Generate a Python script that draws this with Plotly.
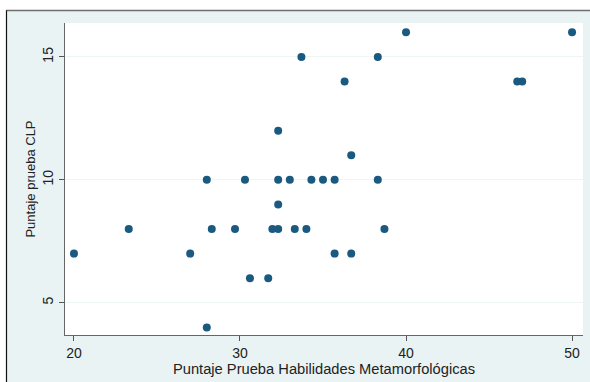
import plotly.graph_objects as go

# Puntaje Prueba Habilidades Metamorfológicas
x_vals = [40.0, 50.0,
          33.7, 38.3,
          36.3, 46.7, 47.0,
          32.3,
          36.7,
          28.0, 30.3, 32.3, 33.0, 34.3, 35.0, 35.7, 38.3,
          32.3,
          23.3, 28.3, 29.7, 31.95, 32.3, 33.3, 34.0, 38.7,
          20.0, 27.0, 35.7, 36.7,
          30.6, 31.7,
          28.0]
# Puntaje prueba CLP
y_vals = [16, 16,
          15, 15,
          14, 14, 14,
          12,
          11,
          10, 10, 10, 10, 10, 10, 10, 10,
          9,
          8, 8, 8, 8, 8, 8, 8, 8,
          7, 7, 7, 7,
          6, 6,
          4]

x_ticks = [20, 30, 40, 50]
y_ticks = [5, 10, 15]

BG = "#eaf3f3"
fig = go.Figure()
fig.add_trace(go.Scatter(
    x=x_vals, y=y_vals, mode="markers",
    marker=dict(size=8, color="#1b5a80", line=dict(width=0)),
    showlegend=False))

PW, PH = 518, 312
L, T = 65, 23
def px(p):
    return (p - L) / PW
def py(p):
    return (T + PH - p) / PH

fig.update_layout(
    width=590, height=382,
    margin=dict(l=L, r=590 - L - PW, t=T, b=382 - T - PH, autoexpand=False),
    paper_bgcolor=BG, plot_bgcolor="white",
    font=dict(family="Liberation Sans, Arial, sans-serif", size=14, color="#222"),
    shapes=[
        dict(type="rect", xref="paper", yref="paper", x0=px(-5), x1=px(600), y0=py(10.5), y1=py(-5),
             fillcolor="white", line=dict(width=0), layer="above"),
        dict(type="rect", xref="paper", yref="paper", x0=px(-5), x1=px(6), y0=py(400), y1=py(-5),
             fillcolor="white", line=dict(width=0), layer="above"),
        dict(type="line", xref="paper", yref="paper", x0=px(6), x1=px(600), y0=py(10.5), y1=py(10.5),
             line=dict(color="#6e6e6e", width=1.5), layer="above"),
        dict(type="line", xref="paper", yref="paper", x0=px(6.5), x1=px(6.5), y0=py(10.5), y1=py(400),
             line=dict(color="#111", width=1.2), layer="above"),
    ],
)
fig.update_xaxes(
    range=[19.46, 50.66], tickvals=x_ticks, ticks="outside", ticklen=5, tickcolor="#555",
    showline=True, linecolor="#666", linewidth=1.2, showgrid=False, zeroline=False, automargin=False,
    tickfont=dict(size=14, color="#222"),
    title=dict(text="Puntaje Prueba Habilidades Metamorfológicas", font=dict(size=14.7, color="#222"), standoff=2))
fig.update_yaxes(
    range=[3.69, 16.38], tickvals=y_ticks, ticks="outside", ticklen=5, tickcolor="#555", tickangle=-90,
    showline=True, linecolor="#666", linewidth=1.2, showgrid=True, gridcolor="#eef5f5", gridwidth=1,
    zeroline=False, automargin=False, tickfont=dict(size=14, color="#222"),
    title=dict(text="Puntaje prueba CLP", font=dict(size=13, color="#222"), standoff=1))

fig.write_html("out.html", config={"displayModeBar": False},
               post_script="document.body.style.margin='0';")
